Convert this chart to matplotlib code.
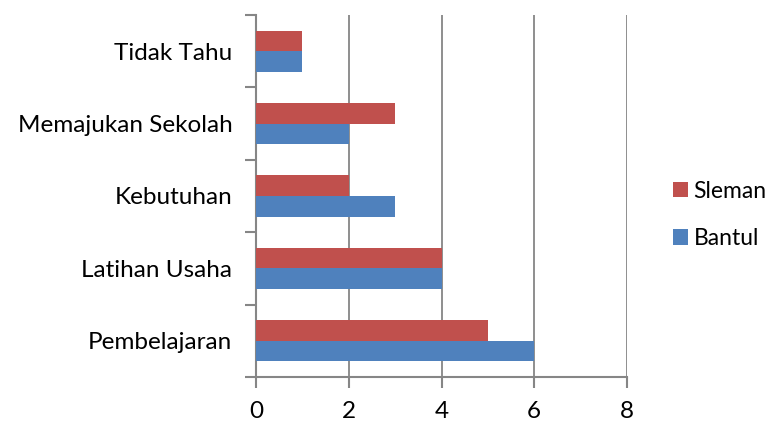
import matplotlib
matplotlib.use("Agg")
import matplotlib.pyplot as plt
import numpy as np

categories = ["Pembelajaran", "Latihan Usaha", "Kebutuhan", "Memajukan Sekolah", "Tidak Tahu"]
bantul = [6, 4, 3, 2, 1]
sleman = [5, 4, 2, 3, 1]
xticks = [0, 2, 4, 6, 8]

plt.rcParams['font.family'] = ['Lato', 'DejaVu Sans']

fig = plt.figure(figsize=(7.79, 4.21), dpi=100)
ax = fig.add_axes([256/779, 1 - 377/421, (627-256)/779, (377-15)/421])

grid_c = "#868686"
fs = 17.5
y = np.arange(len(categories))
h = 0.285
ax.barh(y - h/2, bantul, height=h, color="#4F81BD", label="Bantul", zorder=3)
ax.barh(y + h/2, sleman, height=h, color="#C0504D", label="Sleman", zorder=3)

ax.set_xlim(0, 8)
ax.set_ylim(-0.5, len(categories) - 0.5)
ax.set_xticks(xticks)
ax.set_xticklabels([str(v) for v in xticks], fontsize=fs)
ax.set_yticks(y)
ax.set_yticklabels(categories, fontsize=fs)
ax.set_yticks(np.arange(-0.5, len(categories), 1), minor=True)
ax.tick_params(axis='y', which='major', length=0, pad=17)
ax.tick_params(axis='y', which='minor', length=8, width=1.5, color=grid_c)
ax.tick_params(axis='x', length=8, width=1.5, color=grid_c, pad=9)
ax.xaxis.grid(True, color=grid_c, linewidth=1.3, zorder=0)
for s in ["top", "right"]:
    ax.spines[s].set_visible(False)
for s in ["left", "bottom"]:
    ax.spines[s].set_color(grid_c)
    ax.spines[s].set_linewidth(1.5)

handles, labels = ax.get_legend_handles_labels()
fig.legend(handles[::-1], labels[::-1], loc="center left", bbox_to_anchor=(673/779, 1 - 215/421),
           frameon=False, fontsize=16.5, handlelength=0.65, handleheight=0.65,
           labelspacing=1.15, handletextpad=0.25, borderaxespad=0, borderpad=0)

fig.savefig("out.png", dpi=100)
